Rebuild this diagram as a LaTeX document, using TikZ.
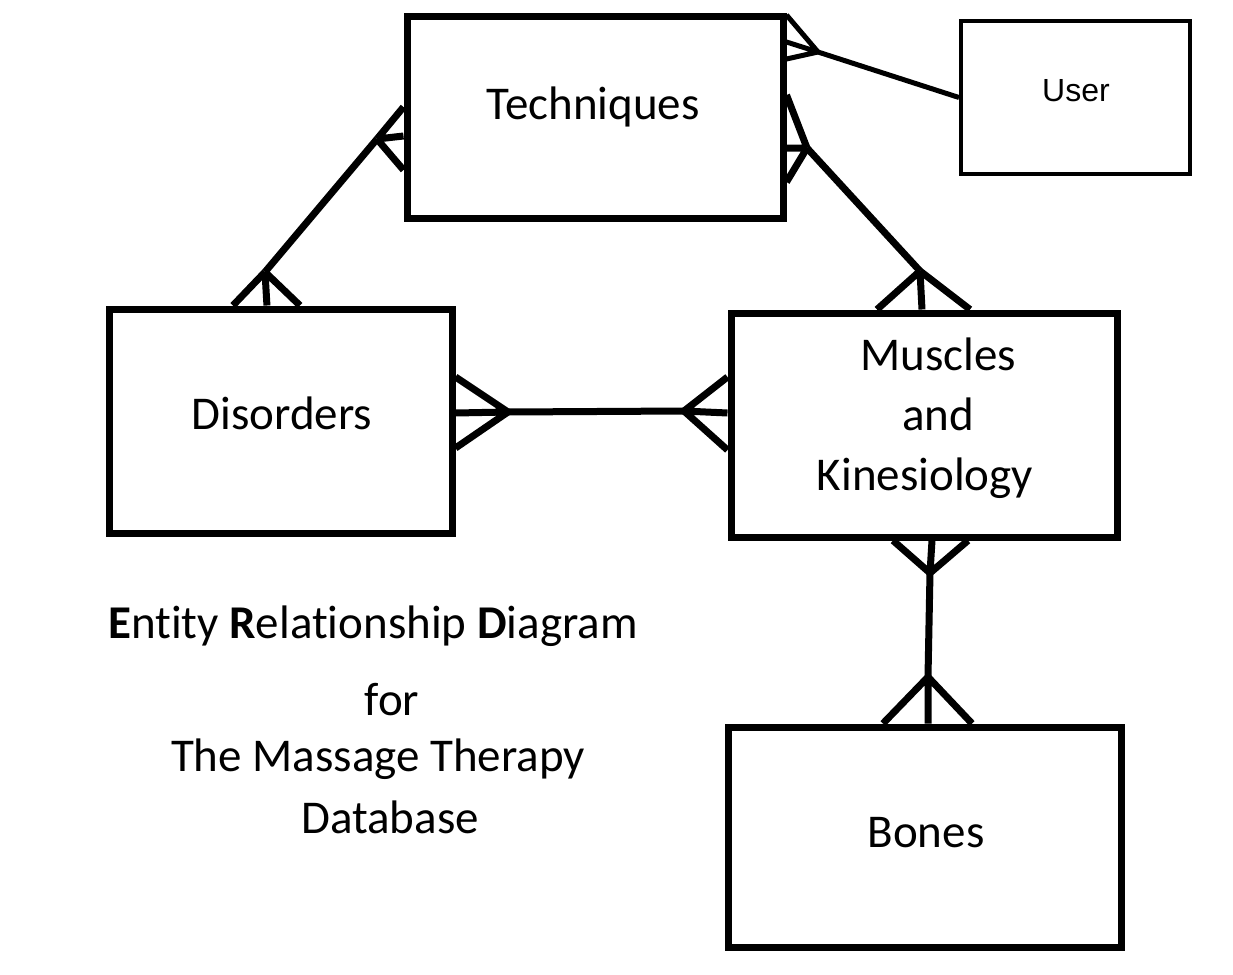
\documentclass[tikz,border=0pt]{standalone}
\usepackage{fontspec}
\setmainfont{Carlito}[RawFeature={-liga}]
\newfontfamily\userfont{Liberation Sans}
\tikzset{
  entity/.style={draw, rectangle, line width=3.5pt, inner sep=0pt},
  entitytext/.style={font=\fontsize{23.5}{30}\selectfont, align=center, inner sep=0pt},
  link/.style={line width=3.5pt},
  thinlink/.style={line width=2.5pt}
}
\begin{document}
\begin{tikzpicture}[x=0.5pt, y=-0.5pt]
    \useasboundingbox (0,0) rectangle (1233,975);
    % entities
    \node[entity, minimum width=188pt, minimum height=101pt] (tech) at (595,117) {};
    \node[entity, line width=2pt, minimum width=114.5pt, minimum height=76.5pt] (user) at (1075.5,97.5) {};
    \node[entity, minimum width=171.25pt, minimum height=112pt] (dis) at (280.75,421) {};
    \node[entity, minimum width=193pt, minimum height=112pt] (mus) at (924,425) {};
    \node[entity, minimum width=196.5pt, minimum height=110pt] (bones) at (924.5,837) {};
    % entity names
    \node[entitytext] (techname) at (593,107) {Techniques};
    \node[entitytext, font=\userfont\fontsize{16}{19}\selectfont] (username) at (1076,91) {User};
    \node[entitytext] (disname) at (282,413) {Disorders};
    \node[entitytext] (musname) at (925,418) {\hspace*{13pt}Muscles\\\hspace*{13pt}and\\Kinesiology};
    \node[entitytext] (bonesname) at (926,833) {Bones};
    % crow's feet points
    \coordinate (techleft) at (377,139);
    \coordinate (techup) at (818,52);
    \coordinate (techright) at (807,148);
    \coordinate (distop) at (265,272);
    \coordinate (disright) at (508,412);
    \coordinate (mustop) at (920,271);
    \coordinate (musleft) at (684,411);
    \coordinate (musbottom) at (930,573);
    \coordinate (bonestop) at (928,677);
    % techniques -- user
    \draw[thinlink] (techup) -- (user.west);
    \draw[thinlink] (techup) -- ([yshift=51pt]tech.east)
        (techup) -- ([yshift=37.5pt]tech.east)
        (techup) -- ([yshift=29pt]tech.east);
    % techniques -- disorders
    \draw[link] (techleft) -- (distop);
    \draw[link] (techleft) -- ([yshift=5pt]tech.west)
        (techleft) -- ([yshift=-9.5pt]tech.west)
        (techleft) -- ([yshift=-26.5pt]tech.west);
    \draw[link] (distop) -- ([xshift=-23.9pt]dis.north)
        (distop) -- ([xshift=-6.9pt]dis.north)
        (distop) -- ([xshift=9.6pt]dis.north);
    % techniques -- muscles
    \draw[link] (techright) -- (mustop);
    \draw[link] (techright) -- ([yshift=11pt]tech.east)
        (techright) -- ([yshift=-15.5pt]tech.east)
        (techright) -- ([yshift=-32.5pt]tech.east);
    \draw[link] (mustop) -- ([xshift=-23.5pt]mus.north)
        (mustop) -- ([xshift=-1pt]mus.north)
        (mustop) -- ([xshift=23pt]mus.north);
    % disorders -- muscles
    \draw[link] (disright) -- (musleft);
    \draw[link] (disright) -- ([yshift=22pt]dis.east)
        (disright) -- ([yshift=4pt]dis.east)
        (disright) -- ([yshift=-13.5pt]dis.east);
    \draw[link] (musleft) -- ([yshift=24pt]mus.west)
        (musleft) -- ([yshift=6pt]mus.west)
        (musleft) -- ([yshift=-12.5pt]mus.west);
    % muscles -- bones
    \draw[link] (musbottom) -- (bonestop);
    \draw[link] (musbottom) -- ([xshift=-15.5pt]mus.south)
        (musbottom) -- ([xshift=4pt]mus.south)
        (musbottom) -- ([xshift=22pt]mus.south);
    \draw[link] (bonestop) -- ([xshift=-20.75pt]bones.north)
        (bonestop) -- ([xshift=1.75pt]bones.north)
        (bonestop) -- ([xshift=23.75pt]bones.north);
    % title
    \node[entitytext] (title) at (373,626) {{\bfseries E}ntity {\bfseries R}elationship {\bfseries D}iagram};
    \node[entitytext] (titlefor) at (392,700) {for};
    \node[entitytext] (titlename) at (378,759) {The Massage Therapy};
    \node[entitytext] (titledb) at (390,817) {Database};
\end{tikzpicture}
\end{document}
